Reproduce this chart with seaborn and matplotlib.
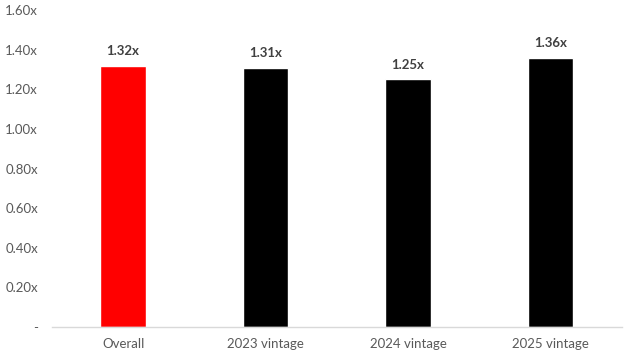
import matplotlib
matplotlib.use("Agg")
import matplotlib.pyplot as plt
import seaborn as sns
import pandas as pd

categories = ["Overall", "2023 vintage", "2024 vintage", "2025 vintage"]
multiples = [1.32, 1.31, 1.25, 1.36]
bar_colors = ["#FF0000", "#000000", "#000000", "#000000"]
y_ticks = [0, 0.2, 0.4, 0.6, 0.8, 1.0, 1.2, 1.4, 1.6]

sns.set_theme(style="white")
plt.rcParams["font.family"] = ["Lato", "DejaVu Sans"]

df = pd.DataFrame({"cat": categories, "val": multiples})

fig = plt.figure(figsize=(6.32, 3.63), dpi=100)
ax = fig.add_axes([0.082, 0.099, 0.902, 0.873])

sns.barplot(data=df, x="cat", y="val", hue="cat", palette=bar_colors,
            width=0.32, legend=False, ax=ax, saturation=1)

for i, v in enumerate(multiples):
    ax.annotate(f"{v:.2f}x", (i, v), xytext=(0, 6), textcoords="offset points",
                ha="center", va="bottom", fontsize=9.5, fontweight="bold",
                color="#404040")

ax.set_xlim(-0.5, 3.5)
ax.set_ylim(0, 1.6)
ax.set_yticks(y_ticks)
ax.set_yticklabels(["-" if t == 0 else f"{t:.2f}x" for t in y_ticks])
ax.set_xlabel("")
ax.set_ylabel("")
ax.tick_params(axis="both", length=0, labelsize=9.5, colors="#595959")
ax.tick_params(axis="y", pad=10)
ax.tick_params(axis="x", pad=8)

for s in ["top", "right", "left"]:
    ax.spines[s].set_visible(False)
ax.spines["bottom"].set_color("#D9D9D9")
ax.spines["bottom"].set_linewidth(1)

fig.savefig("out.png", dpi=100)
